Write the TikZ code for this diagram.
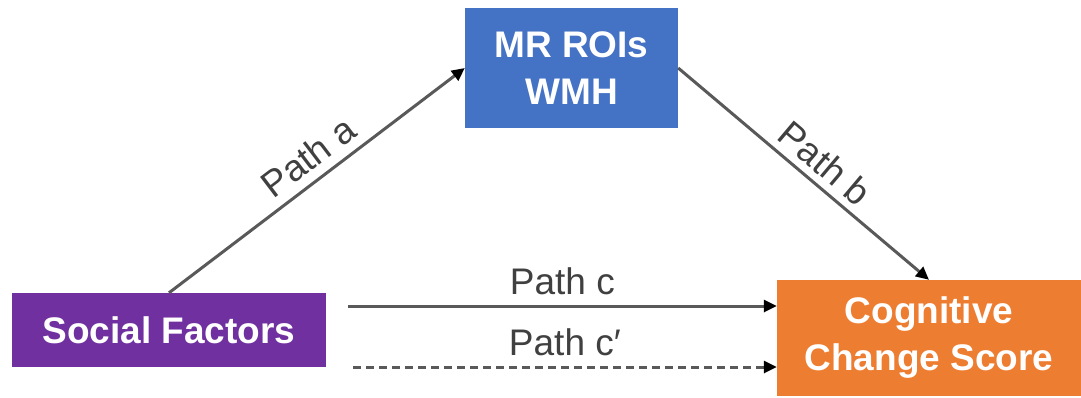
\documentclass[tikz,border=0pt]{standalone}
\usepackage{fontspec}
\setmainfont{Liberation Sans}
\usetikzlibrary{arrows.meta}
\definecolor{socialpurple}{HTML}{7030A0}
\definecolor{roiblue}{HTML}{4472C4}
\definecolor{cogorange}{HTML}{ED7D31}
\definecolor{linegray}{HTML}{595959}
\definecolor{labelgray}{HTML}{404040}
\begin{document}
\begin{tikzpicture}[x=1pt,y=-1pt,
    box/.style={text=white,align=center,inner sep=0pt,
        font=\bfseries\fontsize{37}{47}\selectfont},
    pathline/.style={draw=linegray,line width=3pt,
        -{Triangle[length=13pt,width=12pt,fill=black,color=black]}},
    pathlabel/.style={text=labelgray,font=\fontsize{37}{44}\selectfont}]
    \useasboundingbox (0,0) rectangle (1081,397);
    \node[box,fill=socialpurple,minimum width=314pt,minimum height=74pt] (social) at (169,330) {Social Factors};
    \node[box,fill=roiblue,minimum width=213pt,minimum height=120pt] (roi) at (571.5,68) {MR ROIs\\WMH};
    \node[box,fill=cogorange,minimum width=304pt,minimum height=116pt] (cog) at (929,338) {Cognitive\\Change Score};
    \coordinate (cstart) at (348,306);
    \coordinate (cpstart) at (353,367);
    \draw[pathline] (social.north) -- (roi.west)
        node[pathlabel,pos=0.52,above,sloped,inner sep=9pt] (labela) {Path a};
    \draw[pathline] (roi.east) -- (cog.north)
        node[pathlabel,pos=0.53,above,sloped,inner sep=7pt] (labelb) {Path b};
    \draw[pathline] (cstart) -- (cstart -| cog.west)
        node[pathlabel,midway,above,inner sep=10pt] (labelc) {Path c};
    \draw[pathline,dash pattern=on 8pt off 5pt] (cpstart) -- (cpstart -| cog.west)
        node[pathlabel,midway,above,inner sep=10pt] (labelcp) {Path c′};
\end{tikzpicture}
\end{document}
